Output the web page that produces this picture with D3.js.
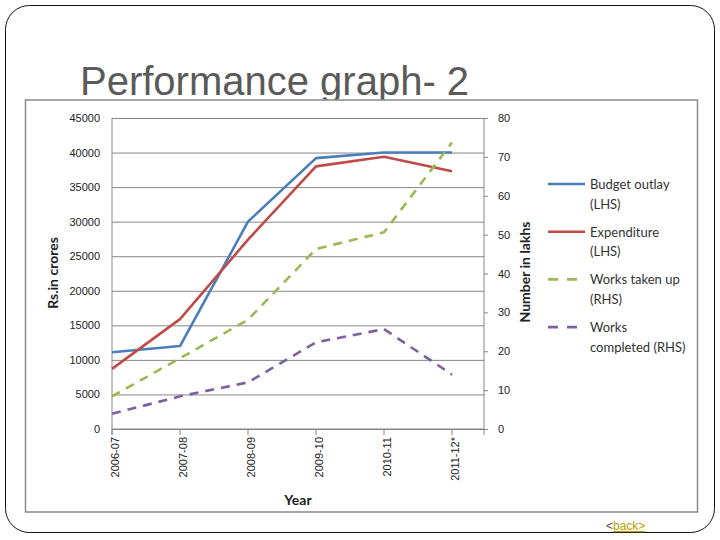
<!DOCTYPE html>
<html lang="en">
<head>
    <meta charset="UTF-8">
    <title>Performance graph- 2</title>
    <script src="https://cdn.jsdelivr.net/npm/d3@7/dist/d3.min.js"></script>
    <style>
        body { margin: 0; background: #fff; }
        svg { display: block; }
        .tick-lbl { font-family: "Liberation Sans", Arial, sans-serif; font-size: 11px; fill: #222; }
        .ax-title { font-family: Lato, sans-serif; font-size: 14px; font-weight: bold; fill: #222; }
    </style>
</head>
<body>
<script>
    var years = ["2006-07", "2007-08", "2008-09", "2009-10", "2010-11", "2011-12*"];
    var budgetOutlay = [11100, 12000, 30000, 39200, 40000, 40000];
    var expenditure  = [8700, 15900, 27400, 38000, 39400, 37300];
    var worksTakenUp = [8.4, 18.2, 28.1, 46.3, 50.6, 73.7];
    var worksCompleted = [3.9, 8.4, 12.0, 22.3, 25.7, 14.0];
    var leftTicks = [0, 5000, 10000, 15000, 20000, 25000, 30000, 35000, 40000, 45000];
    var rightTicks = [0, 10, 20, 30, 40, 50, 60, 70, 80];

    var w = 720, h = 540;
    var svg = d3.select("body").append("svg")
        .attr("width", w)
        .attr("height", h);

    // slide frame
    svg.append("rect")
        .attr("x", 5.5).attr("y", 5.5)
        .attr("width", 709).attr("height", 527)
        .attr("rx", 24).attr("ry", 24)
        .attr("fill", "none")
        .attr("stroke", "#111")
        .attr("stroke-width", 1);

    svg.append("text")
        .attr("x", 80).attr("y", 95)
        .attr("font-family", "Liberation Sans, Arial, sans-serif")
        .attr("font-size", "40px")
        .attr("fill", "#5a5a5a")
        .text("Performance graph- 2");

    // chart box
    svg.append("rect")
        .attr("x", 25.5).attr("y", 100)
        .attr("width", 672).attr("height", 412)
        .attr("fill", "#fff")
        .attr("stroke", "#8a8a8a")
        .attr("stroke-width", 1.5);

    var plotL = 112, plotR = 484, plotT = 118, plotB = 429;

    var x = d3.scalePoint().domain(years).range([112, 452]);
    var yL = d3.scaleLinear().domain([0, 45000]).range([plotB, plotT]);
    var yR = d3.scaleLinear().domain([0, 80]).range([plotB, plotT]);

    // gridlines + left labels
    var gL = svg.append("g").attr("transform", "translate(" + plotL + ",0)")
        .call(d3.axisLeft(yL).tickValues(leftTicks).tickSize(-(plotR - plotL)).tickPadding(12).tickFormat(d3.format("d")));
    gL.select(".domain").remove();
    gL.selectAll(".tick line").attr("stroke", "#868686");
    gL.selectAll(".tick text").attr("class", "tick-lbl").attr("font-family", null).attr("font-size", null);

    var gR = svg.append("g").attr("transform", "translate(" + plotR + ",0)")
        .call(d3.axisRight(yR).tickValues(rightTicks).tickSize(4).tickPadding(10));
    gR.select(".domain").attr("stroke", "#868686").attr("d", "M0," + plotT + "V" + (plotB + 6));
    gR.selectAll(".tick line").attr("stroke", "#868686");
    gR.selectAll(".tick text").attr("class", "tick-lbl").attr("font-family", null).attr("font-size", null);

    // left axis line and x axis
    svg.append("line")
        .attr("x1", plotL).attr("x2", plotL).attr("y1", plotT).attr("y2", plotB + 6)
        .attr("stroke", "#868686");
    svg.append("line")
        .attr("x1", plotL).attr("x2", plotR).attr("y1", plotB).attr("y2", plotB)
        .attr("stroke", "#868686");
    svg.selectAll(".xtick").data(years).enter().append("line")
        .attr("class", "xtick")
        .attr("x1", function(d) { return x(d); })
        .attr("x2", function(d) { return x(d); })
        .attr("y1", plotB).attr("y2", plotB + 6)
        .attr("stroke", "#868686");
    svg.selectAll(".xlbl").data(years).enter().append("text")
        .attr("class", "tick-lbl")
        .attr("text-anchor", "end")
        .attr("dy", "0.35em")
        .attr("transform", function(d) { return "translate(" + (x(d) + 3) + "," + (plotB + 8) + ") rotate(-90)"; })
        .text(function(d) { return d; });

    // axis titles
    svg.append("text").attr("class", "ax-title")
        .attr("text-anchor", "middle")
        .attr("x", 298).attr("y", 505)
        .text("Year");
    svg.append("text").attr("class", "ax-title")
        .attr("text-anchor", "middle")
        .attr("transform", "translate(58,273) rotate(-90)")
        .text("Rs.in crores");
    svg.append("text").attr("class", "ax-title")
        .attr("text-anchor", "middle")
        .attr("transform", "translate(530,272) rotate(-90)")
        .text("Number in lakhs");

    // series
    var series = [
        { name: ["Budget outlay", "(LHS)"], values: budgetOutlay, scale: yL, color: "#4a7ebb", dash: null },
        { name: ["Expenditure", "(LHS)"], values: expenditure, scale: yL, color: "#be4b48", dash: null },
        { name: ["Works taken up", "(RHS)"], values: worksTakenUp, scale: yR, color: "#98b954", dash: "9,7" },
        { name: ["Works", "completed (RHS)"], values: worksCompleted, scale: yR, color: "#7d60a0", dash: "9,7" }
    ];

    series.forEach(function(s) {
        var line = d3.line()
            .x(function(d, i) { return x(years[i]); })
            .y(function(d) { return s.scale(d); });
        svg.append("path")
            .datum(s.values)
            .attr("d", line)
            .attr("fill", "none")
            .attr("stroke", s.color)
            .attr("stroke-width", 2.6)
            .attr("stroke-dasharray", s.dash)
            .attr("stroke-linejoin", "round");
    });

    // legend
    var leg = svg.selectAll(".leg").data(series).enter().append("g")
        .attr("class", "leg")
        .attr("transform", function(d, i) { return "translate(548," + (184 + i * 47.7) + ")"; });
    leg.append("line")
        .attr("x1", 0).attr("x2", 37).attr("y1", 0).attr("y2", 0)
        .attr("stroke", function(d) { return d.color; })
        .attr("stroke-width", 2.6)
        .attr("stroke-dasharray", function(d) { return d.dash ? "10,9" : null; });
    leg.each(function(d) {
        var t = d3.select(this).append("text")
            .attr("font-family", "Lato, sans-serif")
            .attr("font-size", "13px")
            .attr("fill", "#333");
        d.name.forEach(function(s, k) {
            t.append("tspan").attr("x", 42).attr("y", 5 + k * 19.5).text(s);
        });
    });

    // back link
    var back = svg.append("text")
        .attr("x", 606).attr("y", 530)
        .attr("font-family", "Liberation Sans, Arial, sans-serif")
        .attr("font-size", "12px");
    back.append("tspan").attr("fill", "#555").text("<");
    back.append("tspan").attr("fill", "#b89c00").attr("text-decoration", "underline").text("back>");
</script>
</body>
</html>
